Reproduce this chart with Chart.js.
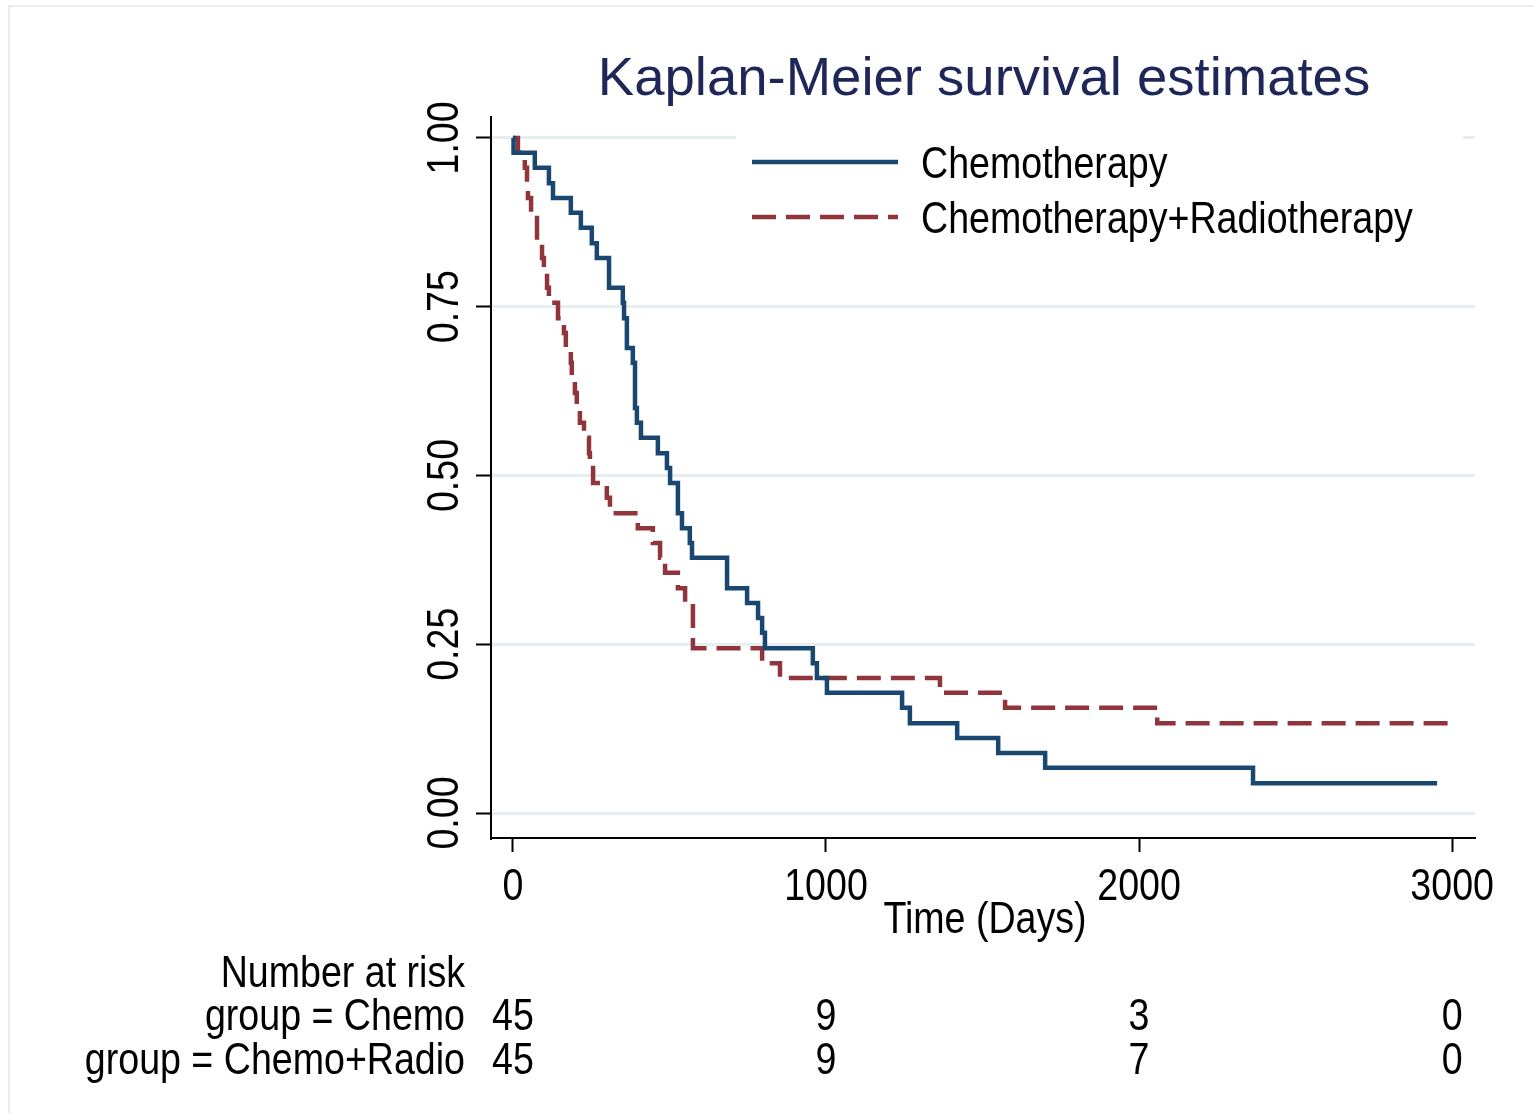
<!DOCTYPE html>
<html>
<head>
<meta charset="utf-8">
<title>Kaplan-Meier survival estimates</title>
<script src="https://cdn.jsdelivr.net/npm/chart.js@4/dist/chart.umd.min.js"></script>
<style>
  html, body { margin: 0; padding: 0; background: #fff; }
  #wrap { position: relative; width: 1534px; height: 1113px; overflow: hidden; }
  #frame { position: absolute; left: 8px; top: 5px; width: 1540px; height: 1120px;
           border-left: 2px solid #e8eef0; border-top: 2px solid #e8eef0; }
  canvas { position: absolute; left: 0; top: 0; }
</style>
</head>
<body>
<div id="wrap">
  <div id="frame"></div>
  <canvas id="kmChart" width="1534" height="1113"></canvas>
</div>
<script>
// Kaplan-Meier steps, time in days and survival estimate after each event
const chemoDays = [0, 2, 70, 115, 128, 185, 217, 252, 268, 307, 351, 355, 364, 383, 390, 396, 409, 463, 492, 502,
  527, 540, 565, 572, 684, 748, 783, 796, 805, 958, 971, 1003, 1243, 1268, 1419, 1550, 1700, 2364, 2952];
const chemoSurv = [1, .978, .956, .933, .911, .889, .867, .844, .822, .778, .756, .733, .689, .667, .600, .578, .556, .533, .511, .489,
  .444, .422, .400, .378, .333, .311, .289, .267, .244, .222, .200, .178, .156, .133, .111, .089, .067, .044, .044];

const radioDays = [0, 16, 38, 45, 48, 58, 77, 93, 99, 109, 115, 144, 163, 169, 185, 188, 198, 204, 214, 227,
  243, 246, 256, 300, 310, 399, 447, 470, 486, 527, 550, 575, 796, 853, 1364, 1572, 2058, 2994];
const radioSurv = [1, .978, .956, .933, .911, .889, .844, .822, .800, .778, .756, .733, .711, .689, .667, .644, .622, .600, .578, .556,
  .533, .511, .489, .467, .444, .422, .400, .378, .356, .333, .311, .244, .222, .200, .178, .156, .133, .133];

const seriesNames = ['Chemotherapy', 'Chemotherapy+Radiotherapy'];
const xTicks = [0, 1000, 2000, 3000];
const yTicks = [0, 0.25, 0.5, 0.75, 1];

// number at risk table
const riskTitle = 'Number at risk';
const riskGroups = ['group = Chemo', 'group = Chemo+Radio'];
const riskChemo = [45, 9, 3, 0];
const riskRadio = [45, 9, 7, 0];

const NAVY = '#1a476f';
const MAROON = '#90353b';
const FONT = "'Liberation Sans', Arial, sans-serif";

const toPoints = (days, surv) => days.map((d, i) => ({ x: d, y: surv[i] }));

// condensed text: squeeze horizontally so labels run narrow and tall
function narrowText(ctx, text, x, y, align, angle) {
  ctx.save();
  ctx.translate(x, y);
  if (angle) ctx.rotate(angle);
  ctx.scale(0.835, 1);
  ctx.textAlign = align;
  ctx.fillText(text, 0, 0);
  ctx.restore();
}

// titles, tick labels, legend and risk table
const textPlugin = {
  id: 'kmText',
  afterDraw(chart) {
    const ctx = chart.ctx;
    const xs = chart.scales.x;
    const ys = chart.scales.y;
    const area = chart.chartArea;
    const midX = (area.left + area.right) / 2;
    ctx.save();
    ctx.fillStyle = '#000';
    ctx.textBaseline = 'alphabetic';
    ctx.font = '45px ' + FONT;

    // y tick labels, rotated
    ys.ticks.forEach(t => {
      narrowText(ctx, t.value.toFixed(2), 458, ys.getPixelForValue(t.value), 'center', -Math.PI / 2);
    });

    // x tick labels and axis title
    xs.ticks.forEach(t => {
      narrowText(ctx, String(t.value), xs.getPixelForValue(t.value), 900, 'center');
    });
    narrowText(ctx, 'Time (Days)', midX + 2, 933, 'center');

    // chart title
    ctx.fillStyle = '#1f2759';
    ctx.font = '54.5px ' + FONT;
    ctx.textAlign = 'center';
    ctx.fillText('Kaplan-Meier survival estimates', midX + 1, 95);

    // legend box
    ctx.fillStyle = '#fff';
    ctx.fillRect(736, 128, 727, 124);
    const legendRows = [
      { name: seriesNames[0], color: NAVY, dash: [], y: 162 },
      { name: seriesNames[1], color: MAROON, dash: [24, 10], y: 217 }
    ];
    ctx.font = '45px ' + FONT;
    legendRows.forEach(r => {
      ctx.strokeStyle = r.color;
      ctx.lineWidth = 4.5;
      ctx.setLineDash(r.dash);
      ctx.beginPath();
      ctx.moveTo(752, r.y);
      ctx.lineTo(898, r.y);
      ctx.stroke();
      ctx.setLineDash([]);
      ctx.fillStyle = '#000';
      narrowText(ctx, r.name, 921, r.y + 16, 'left');
    });

    // number at risk
    narrowText(ctx, riskTitle, 465, 987, 'right');
    narrowText(ctx, riskGroups[0], 465, 1030, 'right');
    narrowText(ctx, riskGroups[1], 465, 1074, 'right');
    xTicks.forEach((v, i) => {
      const x = xs.getPixelForValue(v);
      narrowText(ctx, String(riskChemo[i]), x, 1030, 'center');
      narrowText(ctx, String(riskRadio[i]), x, 1074, 'center');
    });
    ctx.restore();
  }
};

new Chart(document.getElementById('kmChart'), {
  type: 'line',
  data: {
    datasets: [
      {
        label: seriesNames[0],
        data: toPoints(chemoDays, chemoSurv),
        borderColor: NAVY,
        borderWidth: 4.5,
        stepped: true,
        pointRadius: 0,
        fill: false
      },
      {
        label: seriesNames[1],
        data: toPoints(radioDays, radioSurv),
        borderColor: MAROON,
        borderWidth: 4.5,
        borderDash: [24, 10],
        stepped: true,
        pointRadius: 0,
        fill: false
      }
    ]
  },
  options: {
    responsive: false,
    animation: false,
    devicePixelRatio: 1,
    layout: { padding: { left: 476, right: 59, top: 117, bottom: 260 } },
    plugins: { legend: { display: false }, tooltip: { enabled: false } },
    scales: {
      x: {
        type: 'linear',
        min: -70,
        max: 3073,
        afterBuildTicks: s => { s.ticks = xTicks.map(v => ({ value: v })); },
        afterFit: s => { s.height = 15; },
        ticks: { display: false },
        border: { display: true, color: '#000', width: 2 },
        grid: { drawOnChartArea: false, drawTicks: true, tickLength: 14, tickColor: '#000', tickWidth: 2 }
      },
      y: {
        type: 'linear',
        min: -0.037,
        max: 1.031,
        afterBuildTicks: s => { s.ticks = yTicks.map(v => ({ value: v })); },
        afterFit: s => { s.width = 15; },
        ticks: { display: false },
        border: { display: true, color: '#000', width: 2 },
        grid: { color: '#e6eef1', lineWidth: 3, drawTicks: true, tickLength: 15, tickColor: '#000', tickWidth: 2 }
      }
    }
  },
  plugins: [textPlugin]
});
</script>
</body>
</html>
